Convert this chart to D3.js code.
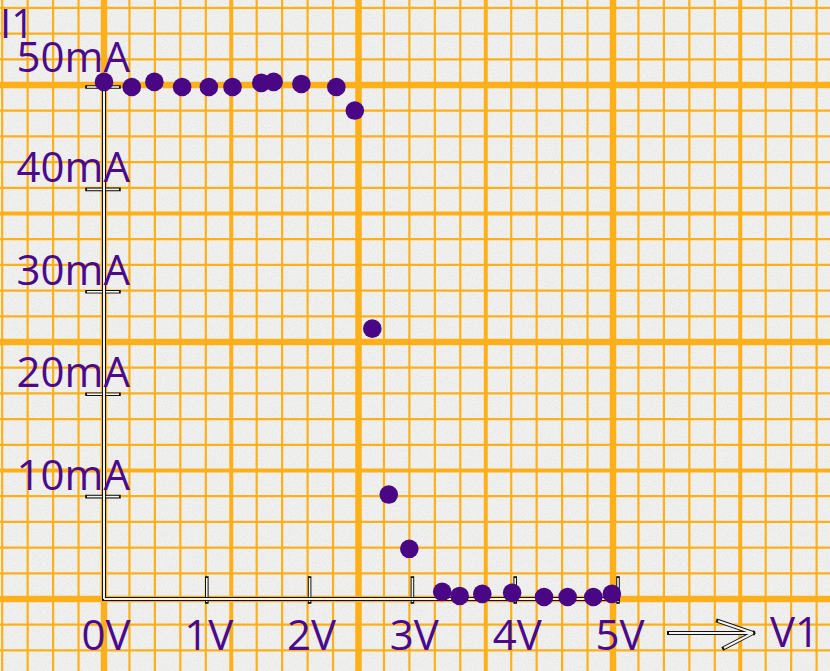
<!DOCTYPE html>
<html><head><meta charset="utf-8">
<script src="https://cdn.jsdelivr.net/npm/d3@7"></script>
<style>html,body{margin:0;padding:0;background:#efefef;} svg{display:block}</style>
</head><body><svg id="c" width="830" height="671"></svg>
<script>
// Data (V1 in volts, I1 in mA)
const voltage = [0, 0.27, 0.49, 0.76, 1.02, 1.25, 1.53, 1.65, 1.92, 2.26, 2.44, 2.61, 2.77, 2.97, 3.29, 3.46, 3.68, 3.97, 4.28, 4.51, 4.76, 4.94];
const current = [50.5, 50.0, 50.5, 50.0, 50.0, 50.0, 50.4, 50.5, 50.3, 50.0, 47.7, 26.4, 10.2, 4.9, 0.7, 0.3, 0.5, 0.6, 0.2, 0.2, 0.2, 0.5];
const xTicks = [0, 1, 2, 3, 4, 5];
const xTickLabels = ["0V", "1V", "2V", "3V", "4V", "5V"];
const yTicks = [10, 20, 30, 40, 50];
const yTickLabels = ["10mA", "20mA", "30mA", "40mA", "50mA"];
const xAxisTitle = "V1";
const yAxisTitle = "I1";

const W = 830, H = 671;
const svg = d3.select("#c");
const x = d3.scaleLinear().domain([0, 5]).range([104, 618]);
const y = d3.scaleLinear().domain([0, 50]).range([599, 87]);

const ink = "#4b0a8c";
const dotColor = "#4a0785";
const gridColor = "#fdb01a";

// paper
const defs = svg.append("defs");
const f = defs.append("filter").attr("id", "paper").attr("x", 0).attr("y", 0).attr("width", "100%").attr("height", "100%");
f.append("feTurbulence").attr("type", "fractalNoise").attr("baseFrequency", 0.8).attr("numOctaves", 2).attr("seed", 4).attr("result", "n");
f.append("feColorMatrix").attr("in", "n").attr("type", "matrix")
  .attr("values", "0 0 0 0 0.55  0 0 0 0 0.55  0 0 0 0 0.55  1.4 0 0 0 -0.45");
svg.append("rect").attr("width", W).attr("height", H).attr("fill", "#f2f2f1");
svg.append("rect").attr("width", W).attr("height", H).attr("filter", "url(#paper)").attr("opacity", 0.35);

// graph-paper grid (decoration, pixel based)
const gx0 = 104, gdx = 25.45, gy0 = 599, gdy = 25.7;
const vk = d3.range(-4, 29), hk = d3.range(-3, 24);
const wOf = k => (k % 10 === 0 ? 6.5 : (k % 5 === 0 ? 4 : 2.2));
const grid = svg.append("g").attr("stroke", gridColor);
grid.selectAll("line.h").data(hk).join("line").attr("class", "h")
  .attr("x1", 0).attr("x2", W)
  .attr("y1", k => gy0 - k * gdy).attr("y2", k => gy0 - k * gdy)
  .attr("stroke-width", wOf);
grid.selectAll("line.v").data(vk).join("line").attr("class", "v")
  .attr("y1", 0).attr("y2", H)
  .attr("x1", k => gx0 + k * gdx).attr("x2", k => gx0 + k * gdx)
  .attr("stroke-width", wOf);

// outlined "double" strokes
function dbl(g, segs, wOut, wIn) {
  g.selectAll(null).data(segs).join("line")
    .attr("x1", d => d[0]).attr("y1", d => d[1]).attr("x2", d => d[2]).attr("y2", d => d[3])
    .attr("stroke", "#111").attr("stroke-width", wOut).attr("stroke-linecap", "square");
  g.selectAll(null).data(segs).join("line")
    .attr("x1", d => d[0]).attr("y1", d => d[1]).attr("x2", d => d[2]).attr("y2", d => d[3])
    .attr("stroke", "#f4f4f0").attr("stroke-width", wIn).attr("stroke-linecap", "butt");
}
const axes = svg.append("g");
const ax = [
  [x(0), y(50) - 2, x(0), y(0)],
  [x(0), y(0), x(5), y(0)]
];
const yt = yTicks.map(v => [x(0) - 17, y(v), x(0) + 15, y(v)]);
const xt = xTicks.slice(1).map(v => [x(v), y(0) - 21, x(v), y(0) + 3]);
dbl(axes, yt, 3.6, 1.6);
dbl(axes, xt, 3.6, 1.6);
dbl(axes, ax, 4, 2);

// arrow toward V1
const arrow = [[669, 633, 753, 633], [718, 621, 753, 633], [724, 648, 753, 633]];
dbl(svg.append("g"), arrow, 4, 2);

// labels
const font = "'Open Sans', 'Noto Sans', sans-serif";
const topTick = d3.max(yTicks);
svg.append("g").selectAll("text").data(yTicks).join("text")
  .attr("x", 130).attr("y", v => y(v) - (v === topTick ? 15 : 7))
  .attr("text-anchor", "end")
  .attr("font-family", font).attr("font-size", 42).attr("fill", ink)
  .text((v, i) => yTickLabels[i]);
svg.append("g").selectAll("text").data(xTicks).join("text")
  .attr("x", v => x(v) + 2).attr("y", 650)
  .attr("text-anchor", "middle")
  .attr("font-family", font).attr("font-size", 42).attr("fill", ink)
  .text((v, i) => xTickLabels[i]);
svg.append("text").attr("x", 0).attr("y", 38)
  .attr("font-family", font).attr("font-size", 40).attr("fill", ink).text(yAxisTitle);
svg.append("text").attr("x", 770).attr("y", 647)
  .attr("font-family", font).attr("font-size", 42).attr("fill", ink).text(xAxisTitle);

// data points
svg.append("g").selectAll("circle").data(voltage).join("circle")
  .attr("cx", d => x(d)).attr("cy", (d, i) => y(current[i]))
  .attr("r", 9.3).attr("fill", dotColor);
</script></body></html>
